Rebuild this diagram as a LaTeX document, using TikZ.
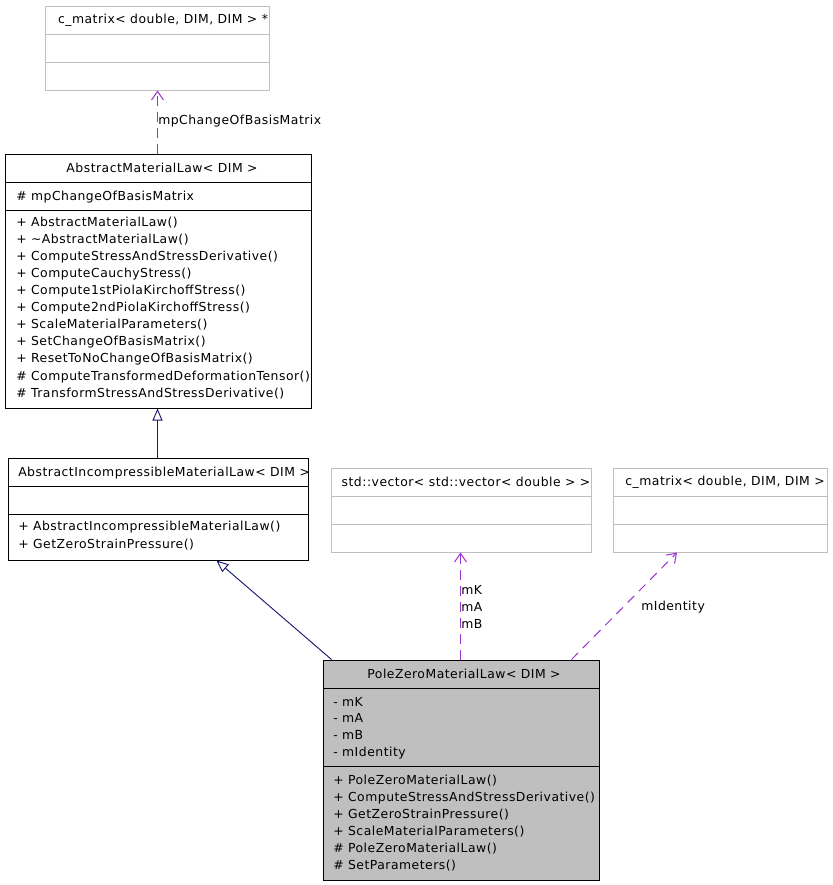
\documentclass[tikz,border=0pt]{standalone}
\usepackage{fontspec}
\setmainfont[LetterSpace=4]{DejaVu Sans}
\usetikzlibrary{arrows.meta,fit}
\definecolor{gborder}{HTML}{BFBFBF}
\definecolor{dep}{HTML}{9A32CD}
\definecolor{inh}{HTML}{191970}
\definecolor{pzfill}{HTML}{BFBFBF}
\tikzset{
  cls/.style={draw=black, line width=0.75pt, inner sep=0pt},
  ext/.style={draw=gborder, line width=0.75pt, inner sep=0pt},
  txt/.style={font=\fontsize{9.3pt}{11pt}\selectfont, inner sep=0pt, anchor=west, text depth=0pt},
  ttl/.style={font=\fontsize{9.3pt}{11pt}\selectfont, inner sep=0pt, anchor=center},
  depline/.style={draw=dep, dash pattern=on 7pt off 5pt, line width=0.75pt, -{Straight Barb[length=6.5pt,width=9pt,line width=0.75pt]}},
  inhline/.style={draw=inh, line width=0.7pt, -{Triangle[open,length=9pt,width=7.5pt,fill=white,line width=0.7pt]}},
  lbl/.style={font=\fontsize{9.3pt}{11pt}\selectfont, inner sep=0pt, anchor=west}
}
\begin{document}
\begin{tikzpicture}[x=0.75pt,y=-0.75pt]
\useasboundingbox (0,0) rectangle (832,885);
% c_matrix *
\node[ext, fit={(45,6) (269,90)}] (b1) {};
\draw[gborder, line width=0.75pt] (45,34) -- (269,34) (45,62) -- (269,62);
\node[ttl] (b1t) at (163,20) {c\_matrix< double, DIM, DIM > *};
% AbstractMaterialLaw
\node[cls, fit={(5,154) (311,408)}] (b2) {};
\draw[line width=0.75pt] (5,182) -- (311,182) (5,210) -- (311,210);
\node[ttl] (b2t) at (162,168) {AbstractMaterialLaw< DIM >};
\node[txt] (b2a) at (16,196) {\# mpChangeOfBasisMatrix};
\node[txt] (b2m1) at (16,222) {+ AbstractMaterialLaw()};
\node[txt] (b2m2) at (16,239) {+ \textasciitilde AbstractMaterialLaw()};
\node[txt] (b2m3) at (16,256) {+ ComputeStressAndStressDerivative()};
\node[txt] (b2m4) at (16,273) {+ ComputeCauchyStress()};
\node[txt] (b2m5) at (16,290) {+ Compute1stPiolaKirchoffStress()};
\node[txt] (b2m6) at (16,307) {+ Compute2ndPiolaKirchoffStress()};
\node[txt] (b2m7) at (16,324) {+ ScaleMaterialParameters()};
\node[txt] (b2m8) at (16,341) {+ SetChangeOfBasisMatrix()};
\node[txt] (b2m9) at (16,358) {+ ResetToNoChangeOfBasisMatrix()};
\node[txt] (b2m10) at (16,376) {\# ComputeTransformedDeformationTensor()};
\node[txt] (b2m11) at (16,393) {\# TransformStressAndStressDerivative()};
% AbstractIncompressibleMaterialLaw
\node[cls, fit={(8,458) (308,560)}] (b3) {};
\draw[line width=0.75pt] (8,486) -- (308,486) (8,514) -- (308,514);
\node[txt] (b3t) at (18,472) {AbstractIncompressibleMaterialLaw< DIM >};
\node[txt] (b3m1) at (18,526) {+ AbstractIncompressibleMaterialLaw()};
\node[txt] (b3m2) at (18,544) {+ GetZeroStrainPressure()};
% std::vector
\node[ext, fit={(331,468) (591,552)}] (b4) {};
\draw[gborder, line width=0.75pt] (331,496) -- (591,496) (331,524) -- (591,524);
\node[ttl] (b4t) at (466,482) {std::vector< std::vector< double > >};
% c_matrix
\node[ext, fit={(613,468) (827,552)}] (b5) {};
\draw[gborder, line width=0.75pt] (613,496) -- (827,496) (613,524) -- (827,524);
\node[ttl] (b5t) at (725,482) {c\_matrix< double, DIM, DIM >};
% PoleZeroMaterialLaw
\node[cls, fill=pzfill, fit={(323,660) (599,880)}] (b6) {};
\draw[line width=0.75pt] (323,688) -- (599,688) (323,766) -- (599,766);
\node[ttl] (b6t) at (464,674) {PoleZeroMaterialLaw< DIM >};
\node[txt] (b6a1) at (333,702) {- mK};
\node[txt] (b6a2) at (333,718) {- mA};
\node[txt] (b6a3) at (333,735) {- mB};
\node[txt] (b6a4) at (333,752) {- mIdentity};
\node[txt] (b6m1) at (333,780) {+ PoleZeroMaterialLaw()};
\node[txt] (b6m2) at (333,797) {+ ComputeStressAndStressDerivative()};
\node[txt] (b6m3) at (333,814) {+ GetZeroStrainPressure()};
\node[txt] (b6m4) at (333,831) {+ ScaleMaterialParameters()};
\node[txt] (b6m5) at (333,848) {\# PoleZeroMaterialLaw()};
\node[txt] (b6m6) at (333,865) {\# SetParameters()};
% connectors
\draw[depline] ([xshift=0.375pt]b1.south |- b2.north) -- ([xshift=0.375pt]b1.south);
\node[lbl] (l1) at (158,121) {mpChangeOfBasisMatrix};
\draw[inhline] ([xshift=-0.375pt]b3.north) -- ([xshift=-0.375pt]b2.south);
\draw[inhline] ([xshift=6.75pt]b6.north west) -- ([xshift=156.75pt]b3.south west);
\draw[depline] ([xshift=-0.375pt]b6.north) -- ([xshift=-0.375pt]b4.south);
\node[lbl] (l2a) at (461,590) {mK};
\node[lbl] (l2b) at (461,607) {mA};
\node[lbl] (l2c) at (461,624) {mB};
\draw[depline] ([xshift=-21pt]b6.north east) -- ([xshift=-32.25pt]b5.south);
\node[lbl] (l3) at (641,607) {mIdentity};
\end{tikzpicture}
\end{document}
